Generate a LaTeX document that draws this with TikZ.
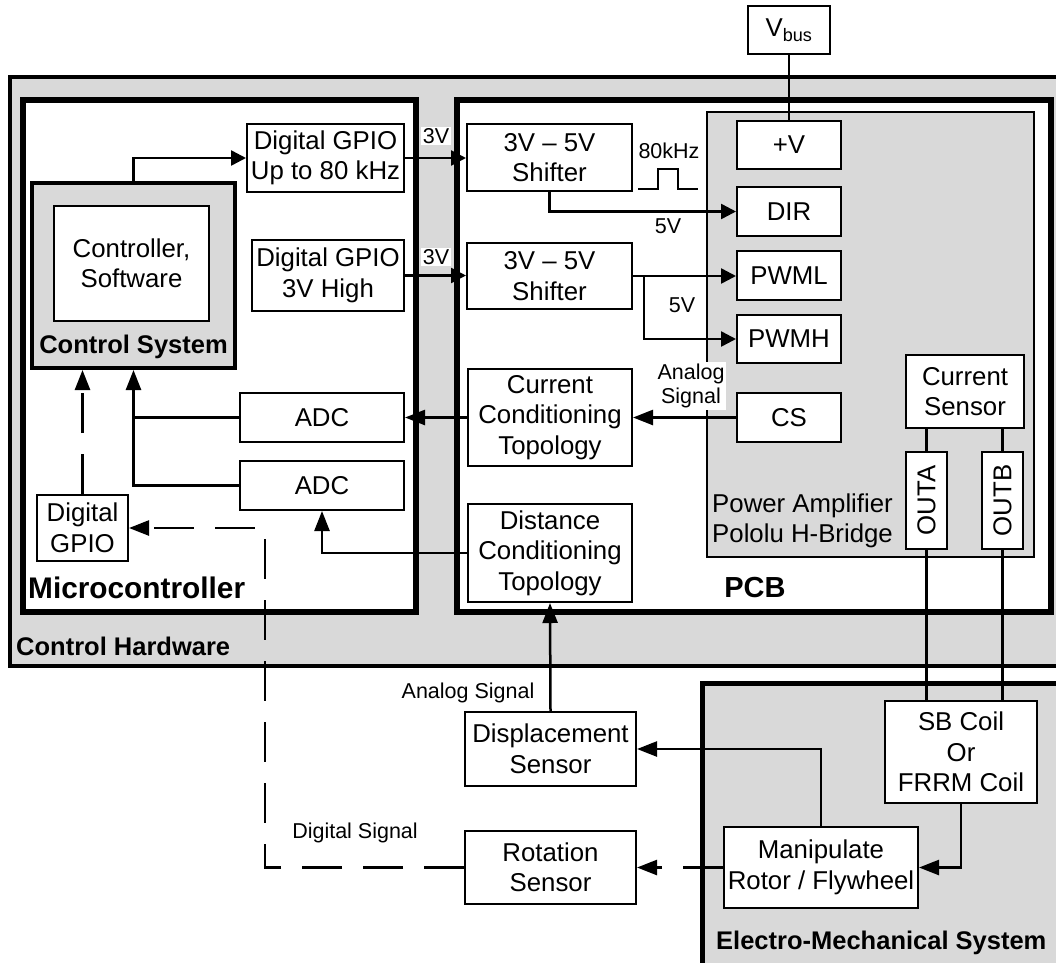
\documentclass[tikz,border=0pt]{standalone}
\usepackage{fontspec}
\setmainfont{Liberation Sans}
\usetikzlibrary{arrows.meta}
\definecolor{bg}{HTML}{D9D9D9}
\begin{document}
\begin{tikzpicture}[x=1pt,y=-1pt,
  ctr/.style={draw, rectangle, inner sep=0pt},
  box/.style={draw, line width=2pt, fill=white, align=center, inner sep=0pt, font=\fontsize{25.8}{30.5}\selectfont},
  conn/.style={line width=2.5pt, -{Triangle[length=20pt,width=15pt]}},
  connS/.style={line width=2.5pt, -{Triangle[length=15pt,width=15pt]}},
  wire/.style={line width=2.5pt},
  dsh/.style={dash pattern=on 40pt off 21pt},
  small/.style={font=\fontsize{21.5}{25}\selectfont, inner sep=1.5pt, align=center},
  boldlbl/.style={font=\bfseries\fontsize{25.5}{30}\selectfont, inner sep=0pt},
]
\useasboundingbox (0,0) rectangle (1056,962);
\clip (0,0) rectangle (1056,962);

% containers
\node[ctr, line width=4pt, fill=bg, minimum width=1070pt, minimum height=589pt] (hw) at (545,371.5) {};
\node[ctr, line width=5.5pt, fill=white, minimum width=393pt, minimum height=512pt] (mc) at (219.5,356) {};
\node[ctr, line width=5.5pt, fill=white, minimum width=594pt, minimum height=512pt] (pcb) at (754,356) {};
\node[ctr, line width=2pt, fill=bg, minimum width=327pt, minimum height=445pt] (pa) at (870.5,334.5) {};
\node[ctr, line width=5pt, fill=bg, minimum width=378pt, minimum height=307pt] (ems) at (891,836.5) {};
\node[ctr, line width=4pt, fill=bg, minimum width=203pt, minimum height=185pt] (ctrlsys) at (133.5,275.5) {};

% boxes
\node[box, minimum width=82pt, minimum height=48pt] (vbus) at (789,30) {V\textsubscript{bus}};
\node[box, minimum width=104pt, minimum height=48pt] (plusv) at (789,145) {+V};
\node[box, minimum width=104pt, minimum height=49pt] (dir) at (789,211.5) {DIR};
\node[box, minimum width=104pt, minimum height=49pt] (pwml) at (789,275.5) {PWML};
\node[box, minimum width=104pt, minimum height=48pt] (pwmh) at (789,339) {PWMH};
\node[box, minimum width=104pt, minimum height=49pt] (cs) at (789,417.5) {CS};
\node[box, minimum width=118pt, minimum height=73pt] (cursens) at (965,391.5) {Current\\Sensor};
\node[box, minimum width=41pt, minimum height=97pt] (outa) at (926.5,500.5) {\rotatebox{90}{OUTA}};
\node[box, minimum width=41pt, minimum height=97pt] (outb) at (1002.5,500.5) {\rotatebox{90}{OUTB}};
\node[box, minimum width=165pt, minimum height=67pt] (shift1) at (549.5,157.5) {3V -- 5V\\Shifter};
\node[box, minimum width=165pt, minimum height=66pt] (shift2) at (549.5,276) {3V -- 5V\\Shifter};
\node[box, minimum width=164pt, minimum height=97pt] (curcond) at (550,417.5) {Current\\Conditioning\\Topology};
\node[box, minimum width=164pt, minimum height=98pt] (distcond) at (550,553) {Distance\\Conditioning\\Topology};
\node[box, minimum width=157pt, minimum height=68pt] (gpio1) at (325.5,158) {Digital GPIO\\Up to 80 kHz};
\node[box, minimum width=152pt, minimum height=71pt] (gpio2) at (328,275.5) {Digital GPIO\\3V High};
\node[box, minimum width=155pt, minimum height=115pt] (ctrlsw) at (131.5,263.5) {Controller,\\Software};
\node[box, minimum width=164pt, minimum height=49pt] (adc1) at (322,417.5) {ADC};
\node[box, minimum width=164pt, minimum height=49pt] (adc2) at (322,485.5) {ADC};
\node[box, minimum width=91pt, minimum height=66pt] (dgpio) at (82.5,528) {Digital\\GPIO};
\node[box, minimum width=171pt, minimum height=74pt] (disp) at (550.5,749) {Displacement\\Sensor};
\node[box, minimum width=171pt, minimum height=73pt] (rot) at (550.5,867.5) {Rotation\\Sensor};
\node[box, minimum width=194pt, minimum height=81pt] (manip) at (821,867.5) {Manipulate\\Rotor / Flywheel};
\node[box, minimum width=152pt, minimum height=102pt] (coil) at (961,752) {SB Coil\\Or\\FRRM Coil};

% container labels
\node[boldlbl, anchor=west] (lblhw) at (16,646) {Control Hardware};
\node[boldlbl, anchor=west, font=\bfseries\fontsize{29.8}{34}\selectfont] (lblmc) at (28,588) {Microcontroller};
\node[boldlbl, font=\bfseries\fontsize{29}{34}\selectfont] (lblpcb) at (755,588) {PCB};
\node[boldlbl] (lblcs) at (133.5,347) {Control System};
\node[boldlbl, anchor=west] (lblems) at (716,943) {Electro-Mechanical System};
\node[anchor=west, align=left, inner sep=0pt, font=\fontsize{25.8}{30}\selectfont] (lblpa) at (712,521) {Power Amplifier\\Pololu H-Bridge};

% connectors
\coordinate (gpiocorner) at (133.5,158);
\draw[connS] (ctrlsys.north) -- (gpiocorner) -- (gpio1.west);
\draw[connS] (gpio1.east) -- (gpio1.east -| shift1.west);
\draw[connS] (gpio2.east) -- (gpio2.east -| shift2.west);
\draw[connS] (shift1.south) |- (dir.west);
\draw[connS] (shift2.east) -- (shift2.east -| pwml.west);
\coordinate (br) at (644,276);
\draw[connS] (br) |- (pwmh.west);
\draw[conn] (cs.west) -- (curcond.east);
\draw[conn] (curcond.west) -- (adc1.east);
\draw[wire] (adc1.west) -- (adc1.west -| ctrlsys.south);
\draw[conn] (adc2.west) -| (ctrlsys.south);
\draw[conn] (distcond.west) -| (adc2.south);
\draw[conn, dsh] (dgpio.north) -- (dgpio.north |- ctrlsys.south);
\coordinate (dc) at (265,528);
\draw[conn, dsh] (rot.west) -| (dc) -- (dgpio.east);
\draw[conn] (disp.north) -- (distcond.south);
\draw[conn] (manip.north) |- (disp.east);
\draw[conn] (coil.south) |- (manip.east);
\draw[conn, dsh] (manip.west) -- (rot.east);
\draw[wire] (vbus.south) -- (plusv.north);
\draw[wire] (cursens.south -| outa.north) -- (outa.north);
\draw[wire] (cursens.south -| outb.north) -- (outb.north);
\draw[wire] (outa.south) -- (outa.south |- coil.north);
\draw[wire] (outb.south) -- (outb.south |- coil.north);
% pulse symbol
\draw[wire] (638,189) -- (658,189) -- (658,169) -- (678,169) -- (678,189) -- (698,189);

% small labels
\node[small, fill=white] (v3a) at (436,136) {3V};
\node[small, fill=white] (v3b) at (436,257) {3V};
\node[small] (khz) at (669,151) {80kHz};
\node[small] (v5a) at (668,226) {5V};
\node[small] (v5b) at (682,305) {5V};
\node[small, fill=white, font=\fontsize{21.5}{24.5}\selectfont] (asig1) at (691,386) {Analog\\Signal};
\node[small] (asig2) at (468,693) {Analog Signal};
\node[small] (dsig) at (355,833) {Digital Signal};
\end{tikzpicture}
\end{document}
